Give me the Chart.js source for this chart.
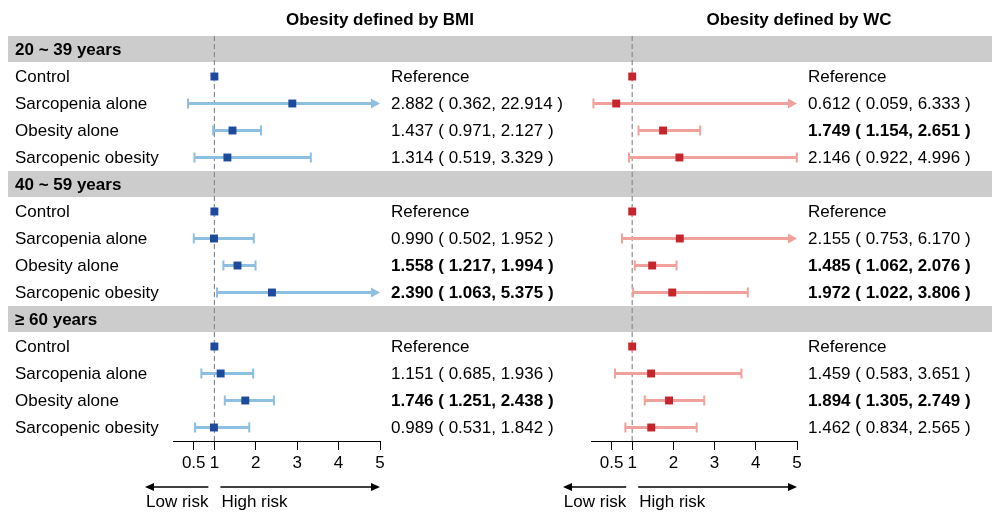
<!DOCTYPE html>
<html>
<head>
<meta charset="utf-8">
<script src="https://cdn.jsdelivr.net/npm/chart.js@4.4.1/dist/chart.umd.min.js"></script>
<style>
  body{margin:0;background:#fff;}
  #wrap{position:relative;width:992px;height:513px;overflow:hidden;}
  #wrap canvas{position:absolute;top:0;}
  #bmiChart{left:0;}
  #wcChart{left:496px;}
</style>
</head>
<body>
<div id="wrap">
  <canvas id="bmiChart" width="992" height="513"></canvas>
  <canvas id="wcChart" width="496" height="513"></canvas>
</div>
<script>
// ---- data ----
const groups = ['20 ~ 39 years', '40 ~ 59 years', '\u2265 60 years'];
const categories = ['Control', 'Sarcopenia alone', 'Obesity alone', 'Sarcopenic obesity'];

// odds ratios, 4 per age group (control = reference 1)
const bmiOR = [1, 2.882, 1.437, 1.314,  1, 0.990, 1.558, 2.390,  1, 1.151, 1.746, 0.989];
const bmiLo = [1, 0.362, 0.971, 0.519,  1, 0.502, 1.217, 1.063,  1, 0.685, 1.251, 0.531];
const bmiHi = [1, 22.914, 2.127, 3.329, 1, 1.952, 1.994, 5.375,  1, 1.936, 2.438, 1.842];

const wcOR = [1, 0.612, 1.749, 2.146,  1, 2.155, 1.485, 1.972,  1, 1.459, 1.894, 1.462];
const wcLo = [1, 0.059, 1.154, 0.922,  1, 0.753, 1.062, 1.022,  1, 0.583, 1.305, 0.834];
const wcHi = [1, 6.333, 2.651, 4.996,  1, 6.170, 2.076, 3.806,  1, 3.651, 2.749, 2.565];

const xTicks = [0.5, 1, 2, 3, 4, 5];
const xMin = 0, xMax = 5;

const FONT = "'Liberation Sans', Arial, sans-serif";
const FS = 17;

// rows : group header then its categories
var rows = [];
groups.forEach((g, gi) => {
  rows.push({ header: true, text: g });
  categories.forEach((c, ci) => {
    rows.push({ header: false, text: c, k: gi * categories.length + ci, ctrl: ci === 0 });
  });
});

function fmt(v){ return v.toFixed(3); }

function arrowHead(ctx, x, y, dir, len, half){
  ctx.beginPath();
  ctx.moveTo(x, y);
  ctx.lineTo(x - dir*len, y - half);
  ctx.lineTo(x - dir*len, y + half);
  ctx.closePath();
  ctx.fill();
}

const forestPlugin = {
  id: 'forest',
  beforeDraw(chart, args, o){
    const ctx = chart.ctx, ys = chart.scales.y;
    ctx.save();
    ctx.fillStyle = '#cccccc';
    rows.forEach((r, i) => {
      if(!r.header) return;
      const top = ys.getPixelForValue(i - 0.5);
      ctx.fillRect(o.bandX, top, chart.width - o.bandX, 26);
    });
    ctx.restore();
  },
  beforeDatasetsDraw(chart, args, o){
    const ctx = chart.ctx, xs = chart.scales.x, ys = chart.scales.y, ca = chart.chartArea;
    ctx.save();
    // reference line at 1
    ctx.strokeStyle = '#8c8c8c';
    ctx.lineWidth = 1.2;
    ctx.setLineDash([5, 3]);
    ctx.beginPath();
    ctx.moveTo(xs.getPixelForValue(1), ca.top);
    ctx.lineTo(xs.getPixelForValue(1), ca.bottom);
    ctx.stroke();
    ctx.setLineDash([]);

    // confidence intervals
    ctx.strokeStyle = o.light;
    ctx.fillStyle = o.light;
    rows.forEach((r, i) => {
      if(r.header) return;
      const y = ys.getPixelForValue(i);
      const lo = o.lo[r.k], hi = o.hi[r.k];
      const x1 = xs.getPixelForValue(lo);
      const over = hi > xMax;
      const x2 = xs.getPixelForValue(over ? xMax : hi);
      ctx.lineWidth = 3;
      ctx.beginPath();
      ctx.moveTo(x1, y); ctx.lineTo(over ? x2 - 6 : x2, y);
      ctx.stroke();
      ctx.lineWidth = 2;
      ctx.beginPath();
      ctx.moveTo(x1, y - 5); ctx.lineTo(x1, y + 5);
      if(!over){ ctx.moveTo(x2, y - 5); ctx.lineTo(x2, y + 5); }
      ctx.stroke();
      if(over) arrowHead(ctx, x2, y, 1, 9, 5);
    });
    ctx.restore();
  },
  afterDraw(chart, args, o){
    const ctx = chart.ctx, xs = chart.scales.x, ys = chart.scales.y;
    ctx.save();
    ctx.fillStyle = '#000';
    ctx.textBaseline = 'middle';

    // title
    ctx.textAlign = 'center';
    ctx.font = 'bold ' + FS + 'px ' + FONT;
    ctx.fillText(o.title, o.titleX, 20);

    ctx.textAlign = 'left';
    rows.forEach((r, i) => {
      const y = ys.getPixelForValue(i) + 1;
      if(o.labelX != null){
        ctx.font = (r.header ? 'bold ' : '') + FS + 'px ' + FONT;
        ctx.fillText(r.text, o.labelX, y);
      }
      if(r.header) return;
      var txt, bold = false;
      if(r.ctrl){ txt = 'Reference'; }
      else {
        txt = fmt(o.or[r.k]) + ' ( ' + fmt(o.lo[r.k]) + ', ' + fmt(o.hi[r.k]) + ' )';
        bold = o.lo[r.k] > 1;
      }
      ctx.font = (bold ? 'bold ' : '') + FS + 'px ' + FONT;
      ctx.fillText(txt, o.textX, y);
    });

    // low / high risk arrows under the axis
    const p0 = xs.getPixelForValue(0), p1 = xs.getPixelForValue(1), p5 = xs.getPixelForValue(xMax);
    const ay = 487;
    ctx.strokeStyle = '#000';
    ctx.lineWidth = 1.5;
    ctx.beginPath();
    ctx.moveTo(p1 - 6, ay); ctx.lineTo(p0 - 22, ay);
    ctx.moveTo(p1 + 6, ay); ctx.lineTo(p5 - 5, ay);
    ctx.stroke();
    arrowHead(ctx, p0 - 28, ay, -1, 9, 4);
    arrowHead(ctx, p5, ay, 1, 9, 4);
    ctx.font = FS + 'px ' + FONT;
    ctx.textAlign = 'right';
    ctx.fillText('Low risk', p1 - 6, 502);
    ctx.textAlign = 'left';
    ctx.fillText('High risk', p1 + 7, 502);
    ctx.restore();
  }
};

function makeChart(id, orArr, loArr, hiArr, dark, light, pad, plug){
  const pts = [];
  rows.forEach((r, i) => { if(!r.header) pts.push({ x: orArr[r.k], y: i }); });
  plug.or = orArr; plug.lo = loArr; plug.hi = hiArr; plug.light = light;
  return new Chart(document.getElementById(id), {
    type: 'scatter',
    data: {
      datasets: [{
        data: pts,
        pointStyle: 'rect',
        pointRadius: 5.6,
        backgroundColor: dark,
        borderColor: dark,
        borderWidth: 0
      }]
    },
    options: {
      responsive: false,
      animation: false,
      layout: { padding: pad },
      plugins: { legend: { display: false }, tooltip: { enabled: false }, forest: plug },
      scales: {
        x: {
          type: 'linear', min: xMin, max: xMax,
          afterBuildTicks: (s) => { s.ticks = xTicks.map(v => ({ value: v })); },
          afterFit: (s) => { s.height = 30; },
          grid: { drawOnChartArea: false, drawTicks: true, tickLength: 9, color: '#000', lineWidth: 1 },
          border: { display: true, color: '#000', width: 1 },
          ticks: { color: '#000', padding: 3, maxRotation: 0, autoSkip: false,
                   font: { family: FONT, size: FS }, callback: (v) => String(v) }
        },
        y: { type: 'linear', min: -0.5, max: rows.length - 0.5, reverse: true, display: false }
      }
    },
    plugins: [forestPlugin]
  });
}

// left chart spans the whole width so its estimate column is not cut off,
// the right one sits on top with a transparent background
makeChart('bmiChart', bmiOR, bmiLo, bmiHi, '#1d4a9a', '#8cbfe0',
  { left: 173, right: 612, top: 36, bottom: 42 },
  { title: 'Obesity defined by BMI', titleX: 380, labelX: 15, textX: 391, bandX: 8 });

makeChart('wcChart', wcOR, wcLo, wcHi, '#c7252d', '#f0a19b',
  { left: 95, right: 195, top: 36, bottom: 42 },
  { title: 'Obesity defined by WC', titleX: 303, labelX: null, textX: 312, bandX: 0 });
</script>
</body>
</html>
